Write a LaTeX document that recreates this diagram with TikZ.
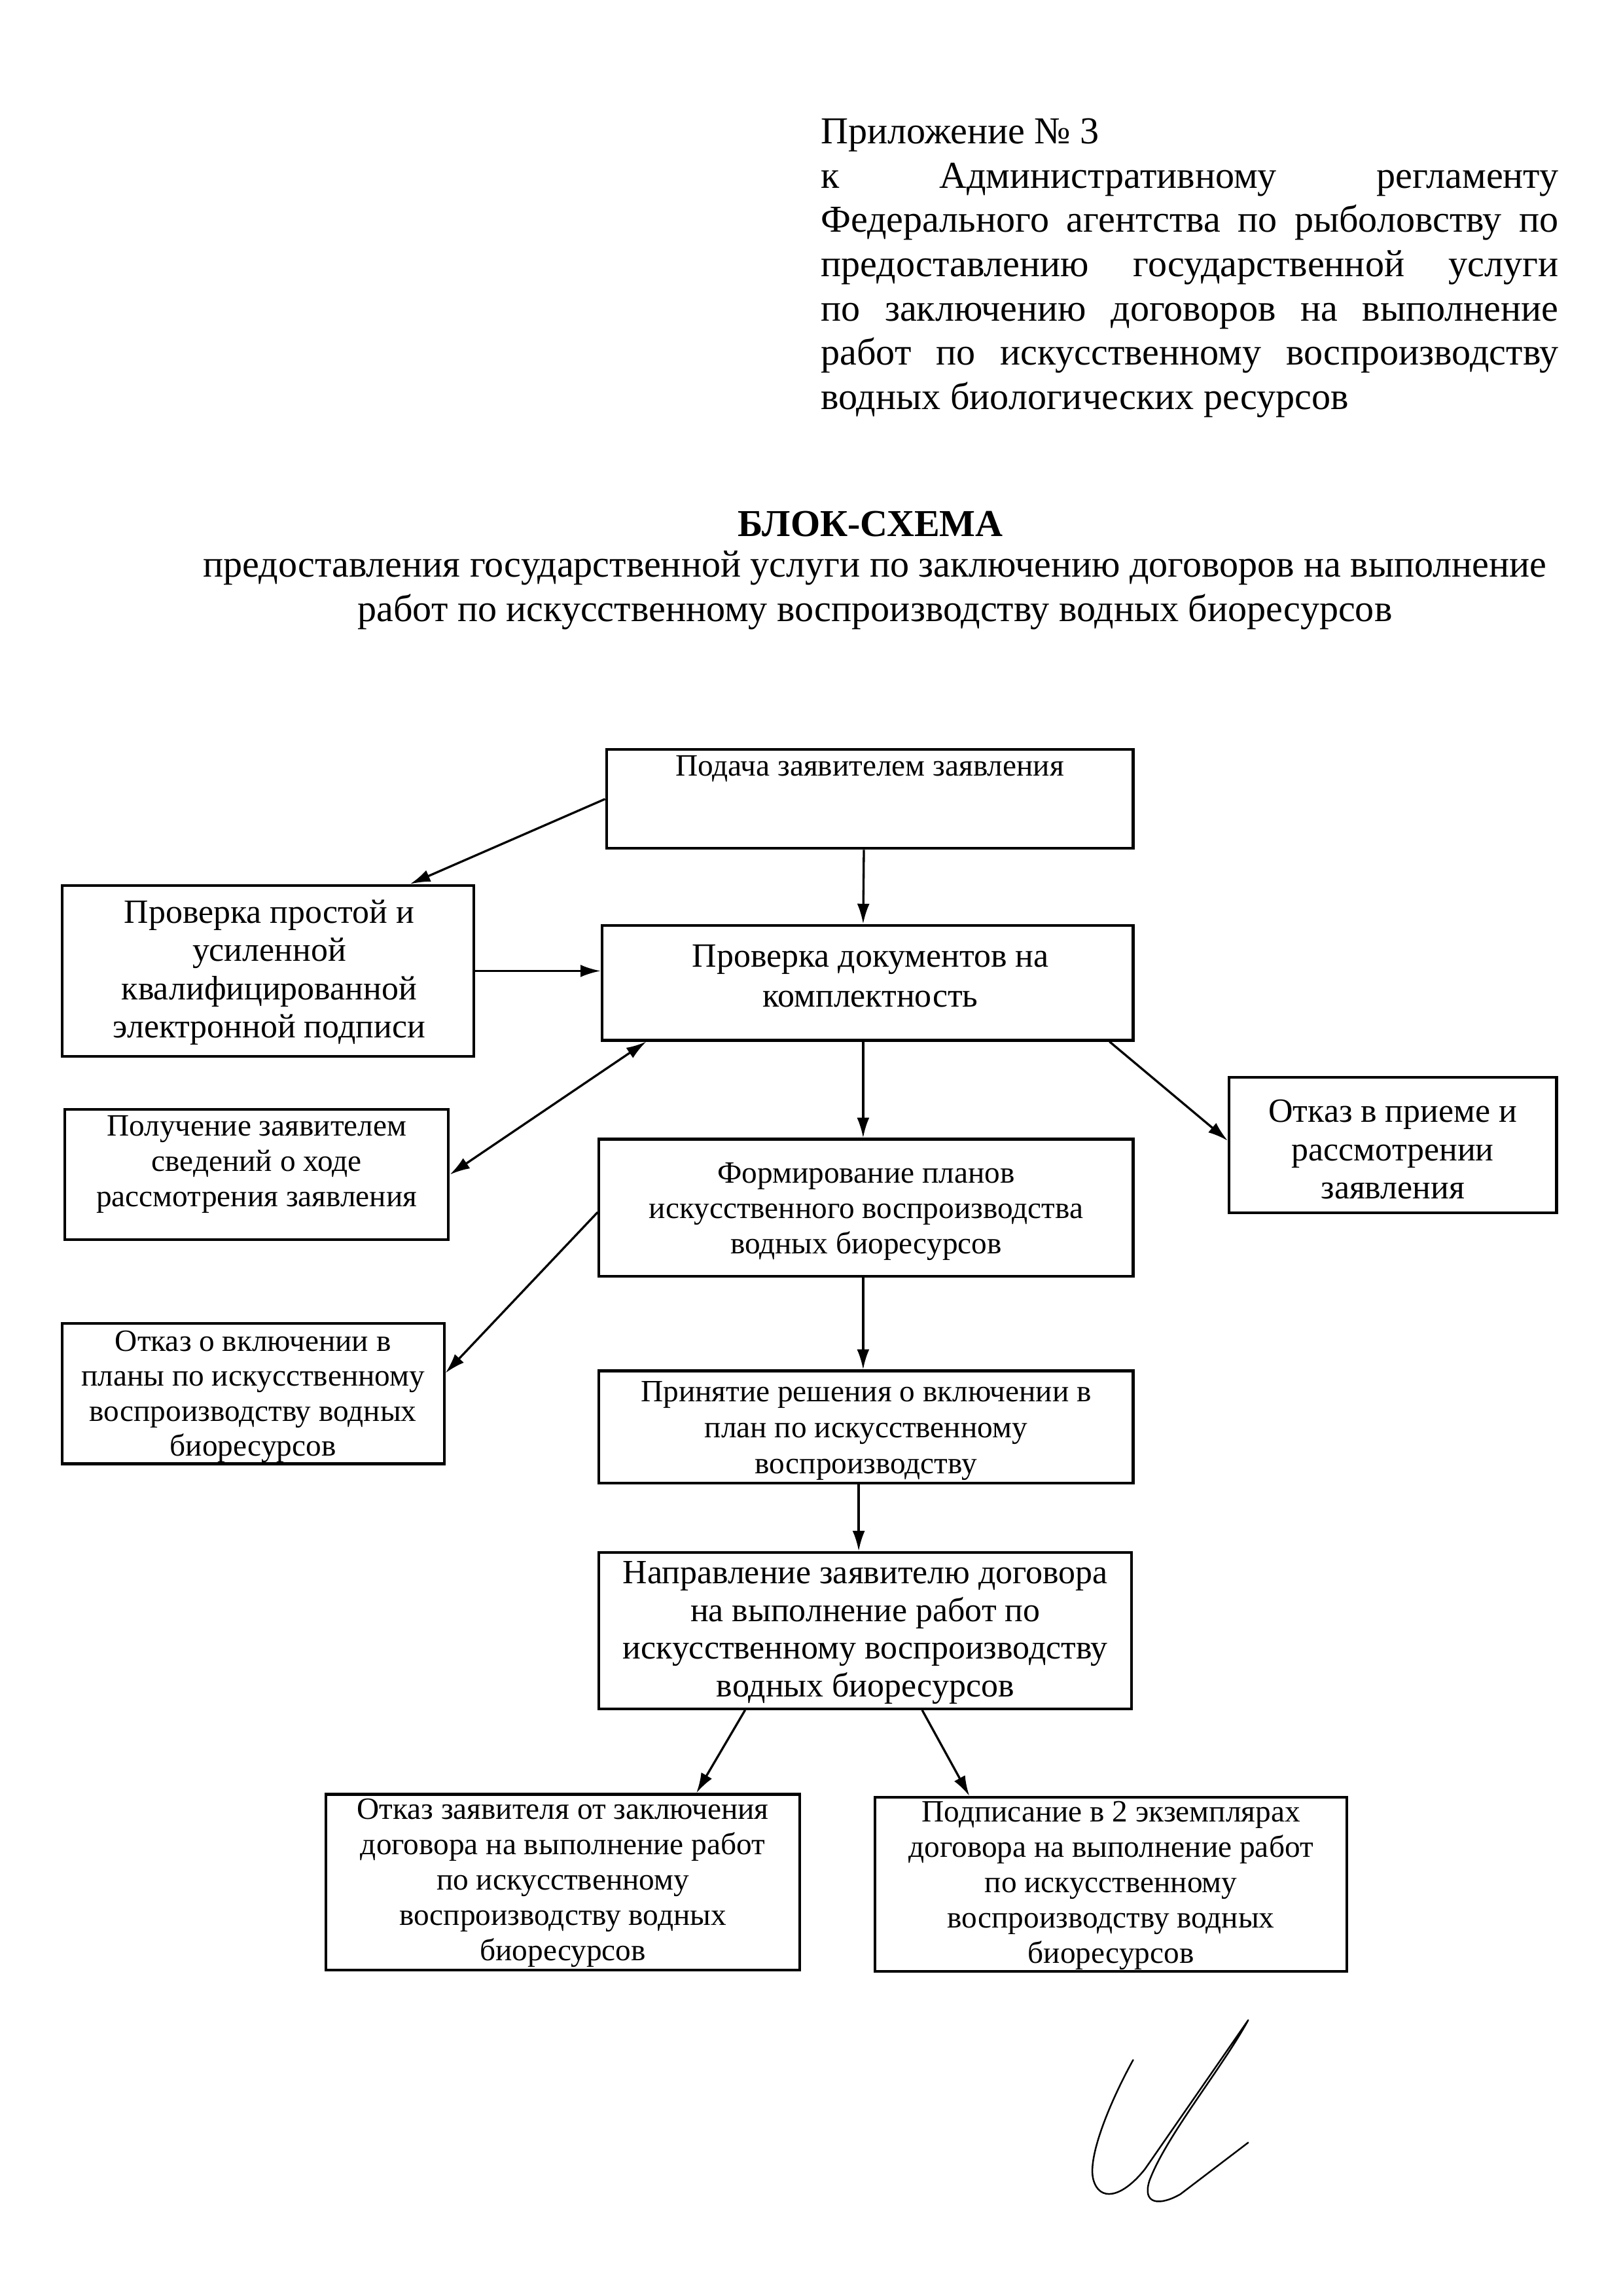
\documentclass[tikz,border=0pt]{standalone}
\usepackage{fontspec}
\setmainfont{Liberation Serif}
\usetikzlibrary{arrows.meta,calc}
\begin{document}
\begin{tikzpicture}[x=0.19091mm,y=-0.19091mm,
  box/.style={draw,line width=1pt,inner sep=0pt},
  wh/.style 2 args={minimum width=#1*0.19091mm,minimum height=#2*0.19091mm},
  txt/.style={align=center,inner sep=0pt},
  big/.style={font=\fontsize{12.5pt}{#1pt}\selectfont},
  small/.style={font=\fontsize{11.4pt}{#1pt}\selectfont},
  arr/.style={line width=0.8pt,-{Latex[length=2.6mm,width=1.6mm]}},
  darr/.style={line width=0.8pt,{Latex[length=2.6mm,width=1.6mm]}-{Latex[length=2.6mm,width=1.6mm]}},
  sig/.style={line width=0.6pt,line cap=round,line join=round}
]
\useasboundingbox (0,0) rectangle (1100,1556);

% header
\node[anchor=north west,text width=500*0.19091mm,align=justify,inner sep=0pt,
      font=\fontsize{14pt}{16.3pt}\selectfont] (hdr) at (556,80)
 {\hyphenpenalty=10000\exhyphenpenalty=10000\relax
  Приложение №~3\\
  к Административному регламенту\linebreak
  Федерального агентства по рыболовству по\linebreak
  предоставлению государственной услуги\linebreak
  по заключению договоров на выполнение\linebreak
  работ по искусственному воспроизводству\linebreak
  водных биологических ресурсов};

\node[font=\fontsize{14pt}{16.3pt}\selectfont\bfseries] (title) at (590,355) {БЛОК-СХЕМА};
\node[align=center,inner sep=0pt,font=\fontsize{14pt}{16.3pt}\selectfont] (sub) at (593,400)
 {предоставления государственной услуги по заключению договоров на выполнение\\
  работ по искусственному воспроизводству водных биоресурсов};

% boxes
\node[box,wh={357}{67}] (podacha) at (589.5,541.5) {};
\node[txt,small=13] (podachaT) at (589.5,521) {Подача заявителем заявления};

\node[box,wh={279}{116}] (prostoy) at (181.5,658) {};
\node[txt,big=14.07] (prostoyT) at (182.5,659)
 {Проверка простой и\\усиленной\\квалифицированной\\электронной подписи};

\node[box,wh={360}{78}] (docs) at (588,666) {};
\node[txt,big=14.6] (docsT) at (590,661.5) {Проверка документов на\\комплектность};

\node[box,wh={260}{88}] (poluch) at (174,796) {};
\node[txt,small=13] (poluchT) at (174,789)
 {Получение заявителем\\сведений о ходе\\рассмотрения заявления};

\node[box,wh={222}{92}] (priem) at (944,776) {};
\node[txt,big=14.07] (priemT) at (944,779) {Отказ в приеме и\\рассмотрении\\заявления};

\node[box,wh={362}{93}] (form) at (587,818.5) {};
\node[txt,small=13] (formT) at (587,821)
 {Формирование планов\\искусственного воспроизводства\\водных биоресурсов};

\node[box,wh={259}{95}] (otkvkl) at (171.5,944.5) {};
\node[txt,small=12.8] (otkvklT) at (171.5,946.5)
 {Отказ о включении в\\планы по искусственному\\воспроизводству водных\\биоресурсов};

\node[box,wh={362}{76}] (prin) at (587,967) {};
\node[txt,small=13.26] (prinT) at (587,969.5)
 {Принятие решения о включении в\\план по искусственному\\воспроизводству};

\node[box,wh={361}{106}] (napr) at (586.5,1105) {};
\node[txt,big=13.9] (naprT) at (586.5,1106.5)
 {Направление заявителю договора\\на выполнение работ по\\искусственному воспроизводству\\водных биоресурсов};

\node[box,wh={321}{119}] (otkzay) at (381.5,1275.5) {};
\node[txt,small=13] (otkzayT) at (381.5,1276)
 {Отказ заявителя от заключения\\договора на выполнение работ\\по искусственному\\воспроизводству водных\\биоресурсов};

\node[box,wh={320}{118}] (podpis) at (753,1277) {};
\node[txt,small=13] (podpisT) at (753,1278)
 {Подписание в 2 экземплярах\\договора на выполнение работ\\по искусственному\\воспроизводству водных\\биоресурсов};

% connectors
\draw[arr] (podacha.west) -- ($(prostoy.north)+(96.5,0)$);
\draw[arr] ($(podacha.south)+(-4,0)$) -- ($(docs.north)+(-3,0)$);
\draw[arr] (prostoy.east) -- (prostoy.east -| docs.west);
\draw[darr] ($(docs.south)+(-150,0)$) -- (poluch.east);
\draw[arr] ($(docs.south)+(-3,0)$) -- ($(form.north)+(-2,0)$);
\draw[arr] ($(docs.south)+(164,0)$) -- ($(priem.west)+(0,-3)$);
\draw[arr] ($(form.west)+(0,3)$) -- ($(otkvkl.east)+(0,-14)$);
\draw[arr] ($(form.south)+(-2,0)$) -- ($(prin.north)+(-2,0)$);
\draw[arr] ($(prin.south)+(-5,0)$) -- ($(napr.north)+(-4.5,0)$);
\draw[arr] ($(napr.south)+(-81.5,0)$) -- ($(otkzay.north)+(90.5,0)$);
\draw[arr] ($(napr.south)+(38.5,0)$) -- ($(podpis.north)+(-96,0)$);

% signature
\draw[sig] (768,1396) .. controls (752,1425) and (737,1462) .. (741,1477)
  .. controls (745,1492) and (760,1490) .. (776,1470) -- (846,1369)
  .. controls (828,1402) and (790,1448) .. (779,1478)
  .. controls (774,1494) and (786,1495) .. (800,1487) -- (846,1452);
\end{tikzpicture}
\end{document}
